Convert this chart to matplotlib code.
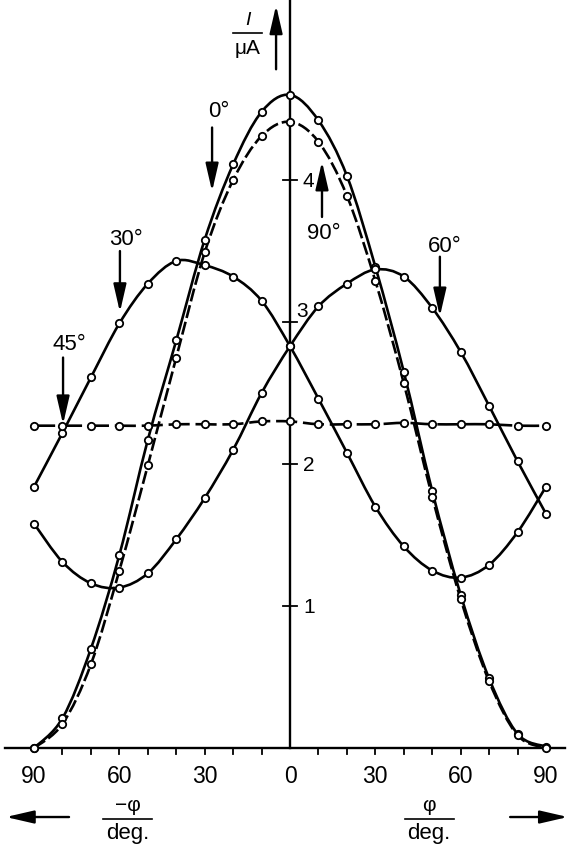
import numpy as np
import matplotlib.pyplot as plt
from matplotlib.path import Path
from matplotlib.patches import PathPatch

plt.rcParams['font.family'] = ['Liberation Sans', 'DejaVu Sans']

# angle phi in degrees (left half = -phi)
phi = [-90, -80, -70, -60, -50, -40, -30, -20, -10, 0,
       10, 20, 30, 40, 50, 60, 70, 80, 90]

# current I in microampere
i_0deg = [0.00, 0.21, 0.70, 1.36, 2.17, 2.87, 3.58, 4.11, 4.48, 4.60,
          4.42, 4.03, 3.39, 2.65, 1.81, 1.08, 0.49, 0.10, 0.01]
i_90deg = [0.00, 0.17, 0.59, 1.25, 1.99, 2.75, 3.49, 4.00, 4.31, 4.41,
           4.27, 3.89, 3.29, 2.57, 1.77, 1.05, 0.47, 0.09, 0.00]
i_30deg = [1.84, 2.22, 2.61, 2.99, 3.27, 3.43, 3.40, 3.32, 3.15, 2.83,
           2.46, 2.08, 1.70, 1.42, 1.25, 1.20, 1.29, 1.52, 1.84]
i_60deg = [1.58, 1.31, 1.16, 1.13, 1.23, 1.47, 1.76, 2.10, 2.50, 2.83,
           3.11, 3.27, 3.37, 3.32, 3.10, 2.79, 2.41, 2.02, 1.65]
i_45deg = [2.27, 2.27, 2.27, 2.27, 2.27, 2.28, 2.28, 2.28, 2.30, 2.30,
           2.28, 2.28, 2.28, 2.29, 2.28, 2.28, 2.28, 2.27, 2.27]

xtick_pos = [-90, -60, -30, 0, 30, 60, 90]
xtick_text = ["90", "60", "30", "0", "30", "60", "90"]
xtick_minor = [-80, -70, -60, -50, -40, -30, -20, -10,
               10, 20, 30, 40, 50, 60, 70, 80]
ytick_vals = [1, 2, 3, 4]


def smooth_path(x, y):
    # Catmull-Rom spline through the points, as cubic Bezier segments
    p = np.column_stack([x, y]).astype(float)
    ext = np.vstack([p[0], p, p[-1]])
    verts = [p[0]]
    codes = [Path.MOVETO]
    for k in range(len(p) - 1):
        p0, p1, p2, p3 = ext[k], ext[k + 1], ext[k + 2], ext[k + 3]
        verts += [p1 + (p2 - p0) / 6, p2 - (p3 - p1) / 6, p2]
        codes += [Path.CURVE4] * 3
    return Path(verts, codes)


fig = plt.figure(figsize=(5.69, 8.45), dpi=100)
ax = fig.add_axes([0, 0, 1, 1])
ax.set_xlim(-101.97, 98.10)
ax.set_ylim(-0.676, 5.275)
ax.axis('off')

# axes
ax.plot([0, 0], [0, 5.275], color='black', lw=1.7, zorder=1)
ax.plot([-100.2, 96.7], [0, 0], color='black', lw=1.7, zorder=1)
for t in xtick_minor:
    ax.plot([t, t], [0, -0.045], color='black', lw=1.3)
for v in ytick_vals:
    ax.plot([-2.6, 2.6], [v, v], color='black', lw=1.3)
for v in ytick_vals:
    if v == 3:
        ax.text(4.4, 3.08, str(v), fontsize=15, ha='center', va='center')
    else:
        ax.text(6.6, v, str(v), fontsize=15, ha='center', va='center')
for t, s in zip(xtick_pos, xtick_text):
    ax.text(t, -0.195, s, fontsize=16.5, ha='center', va='center')

# curves
curves = [
    (i_0deg, None),
    (i_90deg, (0, (5, 1.5))),
    (i_30deg, None),
    (i_60deg, None),
    (i_45deg, (0, (8, 2.2))),
]
for vals, dash in curves:
    patch = PathPatch(smooth_path(phi, vals), fill=False, lw=1.9,
                      edgecolor='black', zorder=2)
    if dash is not None:
        patch.set_linestyle(dash)
    ax.add_patch(patch)
    ax.plot(phi, vals, 'o', ls='none', ms=5.3, mfc='white', mec='black',
            mew=1.3, zorder=3)

arrow_kw = dict(arrowstyle='-|>,head_length=1.3,head_width=0.3',
                color='black', lw=1.7, mutation_scale=13,
                shrinkA=0, shrinkB=0)

# curve labels with arrows: (text, text x, text y, arrow x, tail y, tip y)
labels = [
    ("0°", -25.0, 4.49, -27.4, 4.37, 3.92),
    ("90°", 11.8, 3.63, 11.25, 3.74, 4.13),
    ("30°", -57.6, 3.59, -59.8, 3.50, 3.07),
    ("45°", -77.7, 2.85, -79.8, 2.75, 2.28),
    ("60°", 54.5, 3.54, 52.7, 3.46, 3.04),
]
for s, tx, ty, axx, y0, y1 in labels:
    ax.text(tx, ty, s, fontsize=16, ha='center', va='center')
    ax.annotate('', xy=(axx, y1), xytext=(axx, y0), arrowprops=arrow_kw)

# y axis label I / uA with arrow
ax.annotate('', xy=(-4.9, 5.23), xytext=(-4.9, 4.78), arrowprops=arrow_kw)
ax.text(-14.8, 5.13, "I", fontsize=14, style='italic', ha='center', va='center')
ax.plot([-20.0, -9.8], [5.035, 5.035], color='black', lw=1.2)
ax.text(-14.8, 4.935, "μA", fontsize=15, ha='center', va='center')

# x axis labels
for cx, top in [(-57.0, "−φ"), (48.9, "φ")]:
    ax.text(cx, -0.40, top, fontsize=15, ha='center', va='center')
    ax.plot([cx - 8.6, cx + 8.6], [-0.50, -0.50], color='black', lw=1.2)
    ax.text(cx, -0.595, "deg.", fontsize=16, ha='center', va='center')
ax.annotate('', xy=(-99.9, -0.486), xytext=(-77.7, -0.486), arrowprops=arrow_kw)
ax.annotate('', xy=(97.7, -0.486), xytext=(77.4, -0.486), arrowprops=arrow_kw)

fig.savefig("out.png", dpi=100, facecolor='white')
